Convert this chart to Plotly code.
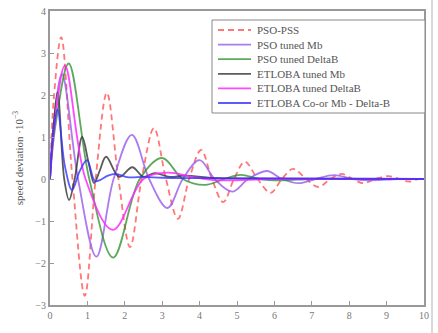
import plotly.graph_objects as go

# ---- data ----
t_pss = [0, 0.1, 0.3, 0.6, 0.93, 1.22, 1.52, 1.83, 2.14, 2.45, 2.78, 3.1, 3.42, 3.72, 4.04,
         4.33, 4.63, 4.92, 5.21, 5.55, 5.9, 6.2, 6.5, 6.85, 7.17, 7.5, 7.8, 8.1, 8.37, 8.7,
         9.05, 9.35, 9.6, 9.85, 10]
y_pss = [0, 1.9, 3.38, 0, -2.78, 0, 2.05, 0, -1.62, 0, 1.21, 0, -0.95, 0, 0.69,
         0, -0.55, 0, 0.41, 0, -0.33, 0, 0.24, 0, -0.19, 0, 0.12, 0, -0.1, 0,
         0.07, 0, -0.06, 0, 0.02]

t_pso_mb = [0, 0.1, 0.32, 0.75, 1.24, 1.7, 2.19, 2.65, 3.14, 3.55, 4.0, 4.4, 4.87, 5.3,
            5.8, 6.2, 6.65, 7.1, 7.6, 8.1, 8.6, 9.3, 10]
y_pso_mb = [0, 1.3, 2.5, 0, -1.85, 0, 1.05, 0, -0.69, 0, 0.45, 0, -0.3, 0,
            0.19, 0, -0.1, 0, 0.09, 0, -0.03, 0, 0]

t_pso_db = [0, 0.15, 0.5, 1.05, 1.69, 2.4, 3.0, 3.55, 4.15, 4.65, 5.1, 5.6, 6.2, 7.0, 8.5, 10]
y_pso_db = [0, 1.3, 2.75, 0, -1.87, 0, 0.5, 0, -0.14, 0, 0.1, 0, -0.03, 0, 0, 0]

t_et_mb = [0, 0.2, 0.38, 0.51, 0.66, 0.86, 1.03, 1.18, 1.33, 1.5, 1.85, 2.2, 2.5, 2.8,
           3.2, 3.6, 4.5, 6.0, 10]
y_et_mb = [0, 2.07, 0, -0.5, 0, 1.0, 0.4, -0.1, 0.2, 0.53, 0.05, 0.28, 0.05, 0.14,
           0.05, 0.08, 0.02, 0.01, 0]

t_et_db = [0, 0.1, 0.4, 0.95, 1.68, 2.5, 3.15, 3.8, 4.5, 6.0, 10]
y_et_db = [0, 1.1, 2.7, 0, -1.21, 0, 0.15, 0.05, -0.03, 0, 0]

t_et_co = [0, 0.08, 0.2, 0.4, 0.59, 0.8, 0.99, 1.2, 1.35, 1.55, 1.75, 2.1, 2.5, 3.0, 4.0, 10]
y_et_co = [0, 1.0, 1.65, 0.3, -0.26, 0.2, 0.45, -0.05, -0.02, 0.08, 0.12, 0.04, 0.05, 0.03, 0.02, 0]

names = ["PSO-PSS", "PSO tuned Mb", "PSO tuned DeltaB", "ETLOBA tuned Mb",
         "ETLOBA tuned DeltaB", "ETLOBA Co-or Mb - Delta-B"]
x_ticks = list(range(0, 11))
y_ticks = list(range(-3, 5))

series = [
    (names[0], t_pss, y_pss, "rgba(255,95,95,0.85)", "6px,4px"),
    (names[1], t_pso_mb, y_pso_mb, "rgba(150,90,235,0.8)", "solid"),
    (names[2], t_pso_db, y_pso_db, "rgba(40,140,40,0.75)", "solid"),
    (names[3], t_et_mb, y_et_mb, "rgba(50,50,50,0.8)", "solid"),
    (names[4], t_et_db, y_et_db, "rgba(255,40,255,0.85)", "solid"),
    (names[5], t_et_co, y_et_co, "rgba(50,50,255,0.8)", "solid"),
]

# plot area lands at screen x 50..424, y 11..305 (body margin removed)
W, H = 438, 333
L, R, T, B = 50, 14, 11, 28
pw, ph = W - L - R, H - T - B


def px(xs):
    return (xs - L) / pw


def py(ys):
    return (H - B - ys) / ph


fig = go.Figure()
for name, tx, ty, col, dash in series:
    fig.add_trace(go.Scatter(
        x=tx, y=ty, name=name, mode="lines", showlegend=False,
        line=dict(color=col, width=1.8, dash=dash, shape="spline", smoothing=1.0),
    ))

# legend drawn as a framed box
shapes = [dict(type="rect", xref="paper", yref="paper",
               x0=px(212), x1=px(425), y0=py(113), y1=py(20),
               line=dict(color="#888888", width=1), fillcolor="white", layer="above"),
          # faint frame edge at right of the picture
          dict(type="line", xref="paper", yref="paper",
               x0=px(432), x1=px(432), y0=py(333), y1=py(0),
               line=dict(color="#cccccc", width=1.5))]
annotations = []
for i, (name, tx, ty, col, dash) in enumerate(series):
    yc = 30 + i * 14.6
    shapes.append(dict(type="line", xref="paper", yref="paper",
                       x0=px(218), x1=px(251), y0=py(yc), y1=py(yc),
                       line=dict(color=col, width=1.8, dash=dash), layer="above"))
    annotations.append(dict(xref="paper", yref="paper", x=px(255), y=py(yc),
                            xanchor="left", yanchor="middle", showarrow=False,
                            text=name,
                            font=dict(family="Liberation Serif", size=11, color="#555555")))

axis_common = dict(
    showgrid=False, zeroline=False, showline=True, linecolor="#999999", linewidth=2,
    mirror=True, ticks="inside", ticklen=4, tickcolor="#999999", automargin=False,
    ticklabeloverflow="allow",
    tickfont=dict(family="Liberation Serif", size=10, color="#777777"),
)
fig.update_xaxes(range=[0, 10], tickvals=x_ticks, **axis_common)
fig.update_yaxes(range=[-3, 4], tickvals=y_ticks,
                 ticktext=[str(v).replace("-", "−") for v in y_ticks],
                 title=dict(text="speed deviation ·10<sup>−3</sup>",
                            font=dict(family="Liberation Serif", size=11, color="#555555"),
                            standoff=10),
                 **axis_common)

fig.update_layout(
    width=W, height=H,
    margin=dict(l=L, r=R, t=T, b=B),
    paper_bgcolor="white", plot_bgcolor="white",
    showlegend=False,
    shapes=shapes, annotations=annotations,
)

fig.write_html("out.html", config={"displayModeBar": False},
               post_script="document.body.style.margin='0';")
